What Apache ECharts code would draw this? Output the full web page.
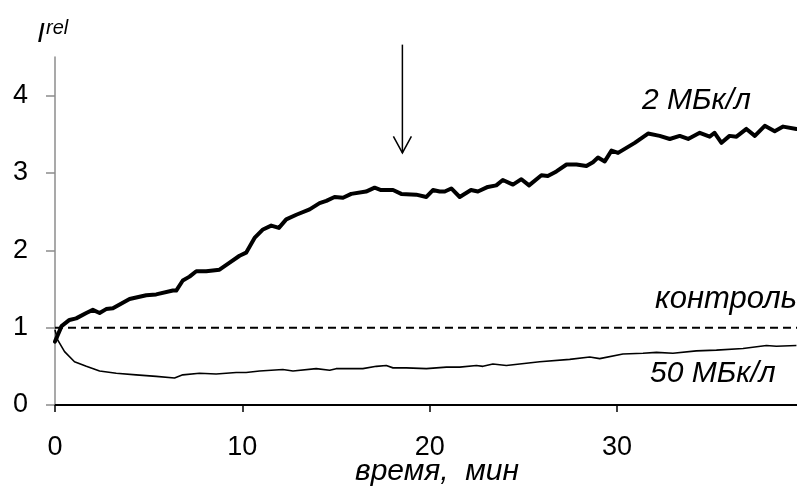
<!DOCTYPE html>
<html>
<head>
<meta charset="utf-8">
<script src="https://cdn.jsdelivr.net/npm/echarts@6/dist/echarts.min.js"></script>
<style>
html,body{margin:0;padding:0;background:#fff;}
#chart{width:797px;height:488px;}
</style>
</head>
<body>
<div id="chart"></div>
<script>
// time, min
var t2 = [0, 0.35, 0.77, 1.13, 1.67, 2.02, 2.38, 2.73, 3.09, 3.98, 4.87, 5.40, 6.29, 6.47, 6.82, 7.18, 7.54, 8.07, 8.78, 9.32, 9.85, 10.2, 10.65, 11.1, 11.54, 11.95, 12.34, 12.88, 13.59, 14.12, 14.48, 14.92, 15.37, 15.81, 16.6, 17.06, 17.4, 18.04, 18.48, 19.28, 19.82, 20.17, 20.53, 20.8, 21.15, 21.6, 22.2, 22.57, 23.1, 23.55, 23.9, 24.44, 24.89, 25.3, 25.96, 26.3, 26.76, 27.3, 27.83, 28.36, 28.71, 28.98, 29.34, 29.7, 30.05, 30.94, 31.65, 32.27, 32.81, 33.34, 33.79, 34.41, 34.94, 35.2, 35.57, 36.0, 36.37, 36.9, 37.35, 37.88, 38.41, 38.86, 39.57];
var v2 = [0.82, 1.02, 1.10, 1.12, 1.19, 1.23, 1.19, 1.24, 1.25, 1.37, 1.42, 1.43, 1.48, 1.48, 1.61, 1.66, 1.73, 1.73, 1.75, 1.84, 1.93, 1.97, 2.16, 2.27, 2.32, 2.29, 2.40, 2.46, 2.53, 2.61, 2.64, 2.69, 2.68, 2.73, 2.76, 2.81, 2.78, 2.78, 2.73, 2.72, 2.69, 2.78, 2.76, 2.76, 2.80, 2.69, 2.78, 2.76, 2.82, 2.84, 2.91, 2.85, 2.92, 2.84, 2.97, 2.96, 3.02, 3.11, 3.11, 3.09, 3.14, 3.20, 3.15, 3.29, 3.26, 3.39, 3.51, 3.48, 3.44, 3.48, 3.44, 3.52, 3.47, 3.52, 3.39, 3.48, 3.47, 3.57, 3.48, 3.61, 3.54, 3.60, 3.57];
var t50 = [0, 0.15, 0.51, 1.04, 1.67, 2.38, 3.27, 4.33, 5.4, 6.38, 6.82, 7.71, 8.6, 9.67, 10.2, 10.92, 12.16, 12.7, 13.94, 14.66, 15.0, 16.43, 17.15, 17.68, 18.04, 18.75, 19.82, 20.89, 21.6, 22.49, 22.84, 23.37, 24.09, 24.8, 25.87, 27.47, 28.54, 29.07, 30.31, 31.38, 32.1, 32.98, 34.23, 35.3, 36.72, 37.97, 38.5, 39.57];
var v50 = [0.97, 0.84, 0.69, 0.56, 0.50, 0.44, 0.41, 0.39, 0.37, 0.35, 0.39, 0.41, 0.40, 0.42, 0.42, 0.44, 0.46, 0.44, 0.47, 0.45, 0.47, 0.47, 0.50, 0.51, 0.48, 0.48, 0.47, 0.49, 0.49, 0.51, 0.50, 0.53, 0.51, 0.53, 0.56, 0.59, 0.62, 0.60, 0.66, 0.67, 0.68, 0.67, 0.70, 0.71, 0.73, 0.77, 0.76, 0.77];
var controlT = [0, 39.6];
var controlV = [1, 1];
var arrowT = 18.54, arrowTop = 4.66, arrowTip = 3.26;
var xTicks = [0, 10, 20, 30];
var yTicks = [0, 1, 2, 3, 4];
var seriesNames = ['2 МБк/л', 'контроль', '50 МБк/л'];
var xName = 'время,  мин';

function zip(a, b){ return a.map(function(v, i){ return [v, b[i]]; }); }

var FONT = '"Liberation Sans", Arial, sans-serif';
var chart = echarts.init(document.getElementById('chart'));
chart.setOption({
  animation: false,
  backgroundColor: '#fff',
  grid: {left: 55, right: 0, top: 57, bottom: 83},
  xAxis: {
    type: 'value', min: 0, max: 39.6, interval: 10,
    axisLine: {onZero: false, lineStyle: {color: '#000', width: 2}},
    axisTick: {show: true, length: 7, customValues: xTicks, lineStyle: {color: '#000', width: 1.5}},
    axisLabel: {customValues: xTicks, margin: 29, color: '#000', fontSize: 27, fontFamily: FONT},
    splitLine: {show: false}
  },
  yAxis: {
    type: 'value', min: 0, max: 4.5, interval: 1,
    axisLine: {show: true, lineStyle: {color: '#8c8c8c', width: 1.5}},
    axisTick: {show: true, length: 9, customValues: yTicks, lineStyle: {color: '#8c8c8c', width: 1.5}},
    axisLabel: {customValues: yTicks, margin: 27, color: '#000', fontSize: 27, fontFamily: FONT},
    splitLine: {show: false}
  },
  series: [
    {name: seriesNames[1], type: 'line', data: zip(controlT, controlV), symbol: 'none',
     lineStyle: {color: '#000', width: 2, type: [8, 5]}, z: 1},
    {name: seriesNames[2], type: 'line', data: zip(t50, v50), symbol: 'none',
     lineStyle: {color: '#000', width: 1.6}, z: 2},
    {name: seriesNames[0], type: 'line', data: zip(t2, v2), symbol: 'none',
     lineStyle: {color: '#000', width: 4, join: 'round', cap: 'round'}, z: 3},
    {type: 'custom', clip: false, silent: true, data: [[arrowT, arrowTop, arrowTip]],
     renderItem: function(params, api){
       var top = api.coord([api.value(0), api.value(1)]);
       var tip = api.coord([api.value(0), api.value(2)]);
       return {type: 'group', children: [
         {type: 'line', shape: {x1: top[0], y1: top[1], x2: tip[0], y2: tip[1]}, style: {stroke: '#000', lineWidth: 1.5}},
         {type: 'polyline', shape: {points: [[tip[0]-9, tip[1]-16.5], [tip[0], tip[1]], [tip[0]+9, tip[1]-16.5]]}, style: {stroke: '#000', lineWidth: 1.5, fill: null}}
       ]};
     }}
  ],
  graphic: [
    {type: 'text', left: 37, top: 20, style: {text: 'I', font: 'italic 28px ' + FONT, fill: '#000'}},
    {type: 'text', left: 46, top: 18, style: {text: 'rel', font: 'italic 20px ' + FONT, fill: '#000'}},
    {type: 'text', x: 642, y: 101, style: {text: seriesNames[0], font: 'italic 30px ' + FONT, fill: '#000', verticalAlign: 'middle', align: 'left'}},
    {type: 'text', x: 797, y: 299, style: {text: seriesNames[1], font: 'italic 31px ' + FONT, fill: '#000', verticalAlign: 'middle', align: 'right'}},
    {type: 'text', x: 650, y: 374, style: {text: seriesNames[2], font: 'italic 30px ' + FONT, fill: '#000', verticalAlign: 'middle', align: 'left'}},
    {type: 'text', x: 355, y: 472, style: {text: xName, font: 'italic 30px ' + FONT, fill: '#000', verticalAlign: 'middle', align: 'left'}}
  ]
});
</script>
</body>
</html>
